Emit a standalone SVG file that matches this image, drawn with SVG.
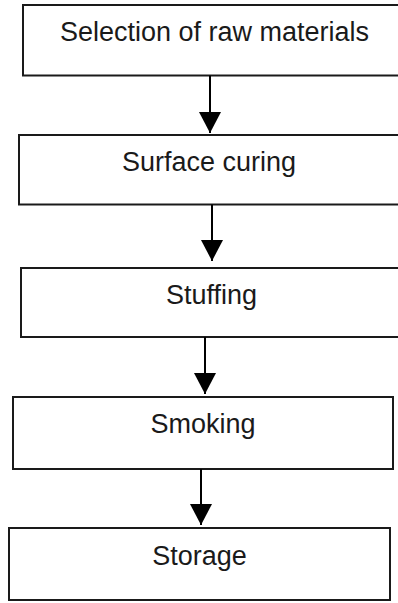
<svg xmlns="http://www.w3.org/2000/svg" width="398" height="603" viewBox="0 0 398 603">
<defs>
<style>
.box{fill:#fff;stroke:#1a1a1a;stroke-width:2}
.lbl{font-family:"Liberation Sans",Arial,sans-serif;font-size:27px;fill:#1a1a1a;text-anchor:middle}
.edge{stroke:#000;stroke-width:2;fill:none}
</style>
<marker id="ah" markerUnits="userSpaceOnUse" markerWidth="22" markerHeight="22" viewBox="0 0 22 22" refX="21" refY="11" orient="auto">
<path d="M0,0 L21,11 L0,22 Z" fill="#000"/>
</marker>
</defs>
<rect width="398" height="603" fill="#fff"/>
<g id="n1"><rect class="box" x="23" y="5" width="380" height="70.5"/><text class="lbl" x="214.5" y="41">Selection of raw materials</text></g>
<g id="n2"><rect class="box" x="19" y="135" width="384" height="69.5"/><text class="lbl" x="209" y="171">Surface curing</text></g>
<g id="n3"><rect class="box" x="21" y="268" width="382" height="69"/><text class="lbl" x="211.5" y="304">Stuffing</text></g>
<g id="n4"><rect class="box" x="13" y="397" width="380" height="72"/><text class="lbl" x="203" y="433">Smoking</text></g>
<g id="n5"><rect class="box" x="9" y="528" width="381" height="72"/><text class="lbl" x="199.5" y="565">Storage</text></g>
<g id="edges">
<line class="edge" x1="210" y1="75.5" x2="210" y2="133" marker-end="url(#ah)"/>
<line class="edge" x1="212" y1="204.5" x2="212" y2="261" marker-end="url(#ah)"/>
<line class="edge" x1="205" y1="337" x2="205" y2="394" marker-end="url(#ah)"/>
<line class="edge" x1="201" y1="469" x2="201" y2="525" marker-end="url(#ah)"/>
</g>
</svg>
